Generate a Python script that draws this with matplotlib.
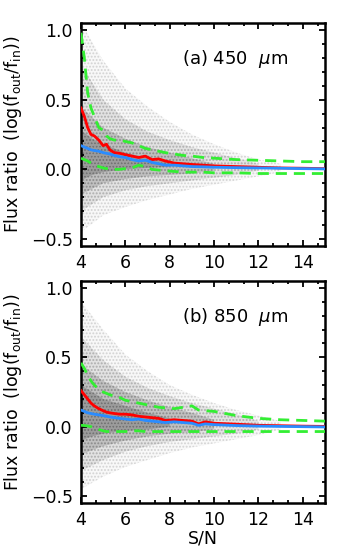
import matplotlib
matplotlib.use("Agg")
import matplotlib.pyplot as plt
from matplotlib.ticker import MultipleLocator

plt.rcParams['font.family'] = ['DejaVu Sans']
plt.rcParams['mathtext.fontset'] = 'dejavusans'
plt.rcParams['hatch.linewidth'] = 0.9

# ---------------- data ----------------
panel_labels = [r"(a) 450  $\mu$m", r"(b) 850  $\mu$m"]

# binned statistics, panel (a)
x_a = [4.0, 4.15, 4.3, 4.45, 4.6, 4.8, 5.0, 5.15, 5.3, 5.5, 5.75, 6.0, 6.3, 6.6,
       6.9, 7.2, 7.5, 7.8, 8.2, 8.6, 9.0, 9.5, 10.0, 11.0, 12.0, 13.0, 14.0, 15.0]
mean_a = [0.44, 0.38, 0.30, 0.25, 0.24, 0.21, 0.17, 0.18, 0.14, 0.12, 0.115, 0.105, 0.095, 0.085,
          0.095, 0.07, 0.075, 0.06, 0.045, 0.04, 0.035, 0.03, 0.025, 0.02, 0.015, 0.01, 0.008, 0.005]
median_a = [0.17, 0.16, 0.15, 0.14, 0.135, 0.13, 0.12, 0.115, 0.11, 0.10, 0.09, 0.085, 0.07, 0.06,
            0.065, 0.05, 0.04, 0.03, 0.03, 0.025, 0.02, 0.018, 0.015, 0.012, 0.01, 0.008, 0.005, 0.003]
upper_a = [0.98, 0.80, 0.55, 0.44, 0.38, 0.30, 0.28, 0.24, 0.22, 0.21, 0.21, 0.20, 0.19, 0.17,
           0.15, 0.14, 0.13, 0.12, 0.11, 0.10, 0.095, 0.085, 0.08, 0.07, 0.065, 0.06, 0.055, 0.055]
lower_a = [0.08, 0.07, 0.06, 0.045, 0.03, 0.02, 0.01, 0.005, 0.005, 0.0, 0.0, 0.005, 0.01, 0.03,
           0.02, 0.0, -0.005, -0.01, -0.015, -0.02, -0.02, -0.02, -0.025, -0.025, -0.03, -0.03, -0.03, -0.03]

# binned statistics, panel (b)
x_b = [4.0, 4.15, 4.3, 4.45, 4.6, 4.8, 5.0, 5.15, 5.3, 5.5, 5.75, 6.0, 6.3, 6.6,
       6.9, 7.2, 7.5, 7.8, 8.2, 8.6, 9.0, 9.3, 9.6, 10.0, 11.0, 12.0, 13.0, 14.0, 15.0]
mean_b = [0.26, 0.23, 0.20, 0.17, 0.15, 0.13, 0.115, 0.105, 0.10, 0.095, 0.09, 0.09, 0.085, 0.075,
          0.07, 0.065, 0.06, 0.045, 0.05, 0.045, 0.04, 0.02, 0.035, 0.025, 0.018, 0.01, 0.007, 0.004, 0.002]
median_b = [0.12, 0.11, 0.10, 0.095, 0.09, 0.085, 0.08, 0.075, 0.07, 0.065, 0.06, 0.055, 0.05, 0.055,
            0.045, 0.04, 0.035, 0.03, 0.035, 0.03, 0.025, 0.01, 0.02, 0.015, 0.008, 0.004, 0.002, 0.0, -0.002]
upper_b = [0.46, 0.42, 0.37, 0.33, 0.30, 0.27, 0.25, 0.24, 0.23, 0.22, 0.21, 0.19, 0.18, 0.17,
           0.16, 0.15, 0.14, 0.135, 0.13, 0.14, 0.15, 0.12, 0.115, 0.11, 0.08, 0.06, 0.05, 0.045, 0.04]
lower_b = [0.01, 0.008, 0.005, 0.0, -0.01, -0.02, -0.03, -0.035, -0.035, -0.035, -0.035, -0.035, -0.03, -0.03,
           -0.035, -0.035, -0.035, -0.035, -0.035, -0.035, -0.035, -0.035, -0.035, -0.035, -0.035, -0.035,
           -0.035, -0.035, -0.035]

# extent of the gray source cloud, from sparse outskirts (1) to the dense core (4)
xc1 = [4, 5, 6, 7, 8, 9, 10, 11, 12, 13]
xc2 = [4, 5, 6, 7, 8, 9, 10, 11, 12]
xc3 = [4, 5, 6, 7, 8, 9, 10]
xc4 = [4, 4.5, 5, 6, 7, 8]

a1_hi = [1.05, 0.78, 0.58, 0.45, 0.34, 0.25, 0.18, 0.12, 0.07, 0.04]
a1_lo = [-0.45, -0.33, -0.27, -0.22, -0.18, -0.14, -0.11, -0.08, -0.05, -0.02]
a2_hi = [0.75, 0.50, 0.36, 0.27, 0.21, 0.16, 0.12, 0.08, 0.04]
a2_lo = [-0.30, -0.20, -0.15, -0.12, -0.10, -0.08, -0.06, -0.04, -0.01]
a3_hi = [0.45, 0.30, 0.22, 0.16, 0.12, 0.08, 0.04]
a3_lo = [-0.18, -0.10, -0.07, -0.05, -0.04, -0.03, -0.01]
a4_hi = [0.28, 0.22, 0.18, 0.12, 0.08, 0.05]
a4_lo = [-0.08, -0.04, -0.02, 0.0, 0.01, 0.02]

b1_hi = [0.90, 0.70, 0.52, 0.40, 0.30, 0.23, 0.17, 0.12, 0.08, 0.04]
b1_lo = [-0.45, -0.36, -0.29, -0.24, -0.19, -0.15, -0.12, -0.09, -0.06, -0.02]
b2_hi = [0.65, 0.48, 0.36, 0.28, 0.22, 0.17, 0.13, 0.09, 0.04]
b2_lo = [-0.32, -0.24, -0.18, -0.14, -0.11, -0.09, -0.07, -0.05, -0.02]
b3_hi = [0.45, 0.33, 0.25, 0.19, 0.14, 0.10, 0.05]
b3_lo = [-0.20, -0.14, -0.10, -0.07, -0.05, -0.04, -0.02]
b4_hi = [0.30, 0.25, 0.20, 0.15, 0.10, 0.06]
b4_lo = [-0.10, -0.07, -0.05, -0.03, -0.02, 0.0]

xticks = [4, 6, 8, 10, 12, 14]
yticks = [-0.5, 0.0, 0.5, 1.0]
ytick_labels = ['\u22120.5', '0.0', '0.5', '1.0']

panels = [
    dict(x=x_a, mean=mean_a, med=median_a, up=upper_a, lo=lower_a,
         cloud=[(xc1, a1_lo, a1_hi), (xc2, a2_lo, a2_hi), (xc3, a3_lo, a3_hi), (xc4, a4_lo, a4_hi)]),
    dict(x=x_b, mean=mean_b, med=median_b, up=upper_b, lo=lower_b,
         cloud=[(xc1, b1_lo, b1_hi), (xc2, b2_lo, b2_hi), (xc3, b3_lo, b3_hi), (xc4, b4_lo, b4_hi)]),
]

# ---------------- figure ----------------
fig = plt.figure(figsize=(3.5, 5.6), dpi=100)
axes = [fig.add_axes([81/350, 1-246/560, 244/350, 223/560]),
        fig.add_axes([81/350, 1-503/560, 244/350, 222/560])]

cloud_face = ['#f8f8f8', '#e2e2e2', '#c0c0c0', '#9c9c9c']
cloud_hatch = ['#d2d2d2', '#b0b0b0', '#8c8c8c', '#707070']

for ax, p, lab in zip(axes, panels, panel_labels):
    for (xc, lo, hi), fc, hc in zip(p['cloud'], cloud_face, cloud_hatch):
        ax.fill_between(xc, lo, hi, facecolor=fc, edgecolor='none', linewidth=0, zorder=1)
        ax.fill_between(xc, lo, hi, facecolor='none', edgecolor=hc, hatch='.....', linewidth=0, zorder=1.1)
    ax.plot(p['x'], p['up'], color='#33ee33', lw=2.0, dashes=(4, 2.5), zorder=3)
    ax.plot(p['x'], p['lo'], color='#33ee33', lw=2.0, dashes=(4, 2.5), zorder=3)
    ax.plot(p['x'], p['mean'], color='#ff0000', lw=2.0, zorder=4)
    ax.plot(p['x'], p['med'], color='#2a8cff', lw=2.0, zorder=5)

    ax.set_xlim(4, 15)
    ax.set_ylim(-0.55, 1.05)
    ax.set_xticks(xticks)
    ax.set_yticks(yticks)
    ax.set_yticklabels(ytick_labels)
    ax.xaxis.set_minor_locator(MultipleLocator(2/3))
    ax.yaxis.set_minor_locator(MultipleLocator(0.1))
    ax.tick_params(which='both', direction='in', top=True, right=True, labelsize=12.5, width=1.3)
    ax.tick_params(which='major', length=4.5, pad=6)
    ax.tick_params(which='minor', length=2.2)
    for s in ax.spines.values():
        s.set_linewidth(1.8)
    ax.text(0.414, 0.84, lab, transform=ax.transAxes, fontsize=13, ha='left', va='center')
    ax.set_ylabel(r'Flux ratio  (log(f$_{\rm out}$/f$_{\rm in}$))', fontsize=12.5)
    ax.yaxis.set_label_coords(-0.235, 0.5)

axes[1].set_xlabel('S/N', fontsize=12.5, labelpad=0)

fig.savefig('out.png', dpi=100)
